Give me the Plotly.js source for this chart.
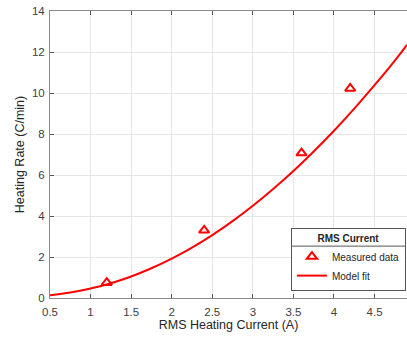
<!DOCTYPE html>
<html>
<head>
<meta charset="utf-8">
<script src="https://cdn.plot.ly/plotly-3.0.1.min.js"></script>
<style>html,body{margin:0;padding:0;background:#fff;}#chart{width:407px;height:339px;}</style>
</head>
<body>
<div id="chart"></div>
<script>
const measuredX = [1.2, 2.4, 3.6, 4.2];
const measuredY = [0.75, 3.3, 7.07, 10.22];
const fitX = [0.5, 0.75, 1.0, 1.25, 1.5, 1.75, 2.0, 2.25, 2.5, 2.75, 3.0, 3.25, 3.5, 3.75, 4.0, 4.25, 4.5, 4.75, 4.9];
const fitY = [0.13, 0.27, 0.46, 0.72, 1.05, 1.45, 1.92, 2.46, 3.07, 3.75, 4.5, 5.32, 6.2, 7.15, 8.16, 9.24, 10.38, 11.58, 12.35];
const xTicks = [0.5, 1, 1.5, 2, 2.5, 3, 3.5, 4, 4.5];
const yTicks = [0, 2, 4, 6, 8, 10, 12, 14];

const font = 'Liberation Sans, Arial, Helvetica, sans-serif';
const data = [
  {x: measuredX, y: measuredY, type: 'scatter', mode: 'markers', name: 'Measured data',
   marker: {symbol: 'triangle-up-open', size: 9, color: '#ff0000', line: {width: 2, color: '#ff0000'}}},
  {x: fitX, y: fitY, type: 'scatter', mode: 'lines', name: 'Model fit',
   line: {color: '#ff0000', width: 2, shape: 'spline'}}
];
const axisCommon = {
  showgrid: true, gridcolor: '#e6e6e6', gridwidth: 1,
  showline: true, linecolor: '#8a8a8a', linewidth: 1,
  ticks: 'inside', ticklen: 4, tickcolor: '#555', tickwidth: 1,
  tickfont: {family: font, size: 11.5, color: '#404040'},
  zeroline: false
};
const layout = {
  width: 407, height: 339,
  margin: {l: 50, r: 0, t: 11, b: 41},
  paper_bgcolor: '#fff', plot_bgcolor: '#fff',
  showlegend: true,
  xaxis: Object.assign({}, axisCommon, {
    range: [0.5, 4.9], tickvals: xTicks, ticktext: xTicks.map(String), mirror: 'ticks',
    ticklabelstandoff: 3,
    title: {text: 'RMS Heating Current (A)', font: {family: font, size: 12.5, color: '#262626'}, standoff: 3}
  }),
  yaxis: Object.assign({}, axisCommon, {
    range: [0, 14], tickvals: yTicks, ticktext: yTicks.map(String),
    ticklabelstandoff: 2,
    title: {text: 'Heating Rate (C/min)', font: {family: font, size: 12.5, color: '#262626'}, standoff: 4}
  }),
  legend: {
    x: 0.997, xanchor: 'right', y: 0.024, yanchor: 'bottom',
    bgcolor: '#fff', bordercolor: '#555', borderwidth: 1,
    font: {family: font, size: 10, color: '#262626'},
    title: {text: '<b>RMS Current</b>', side: 'top center', font: {family: font, size: 10, color: '#262626'}},
    tracegroupgap: 0, itemwidth: 30
  }
};
Plotly.newPlot('chart', data, layout, {displayModeBar: false, staticPlot: true}).then(function(gd){
  const leg = gd.querySelector('.legend');
  const bg = leg.querySelector('.bg');
  const w = parseFloat(bg.getAttribute('width'));
  const titleEl = leg.querySelector('.legendtitletext');
  const tb = titleEl.getBBox();
  const sepY = tb.y + tb.height + 2;
  const ln = document.createElementNS('http://www.w3.org/2000/svg', 'line');
  ln.setAttribute('x1', 0); ln.setAttribute('x2', w);
  ln.setAttribute('y1', sepY); ln.setAttribute('y2', sepY);
  ln.setAttribute('stroke', '#555'); ln.setAttribute('stroke-width', 1);
  leg.appendChild(ln);
});
</script>
</body>
</html>
